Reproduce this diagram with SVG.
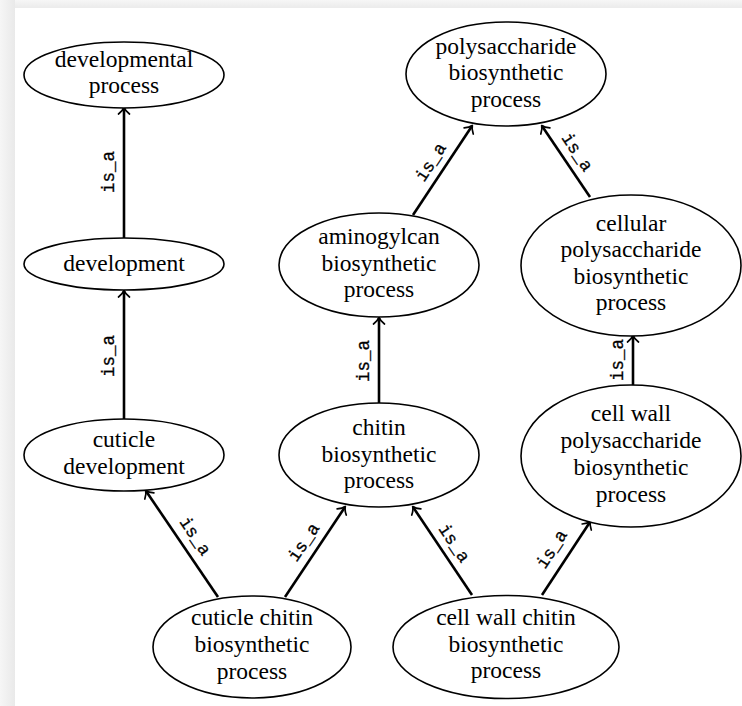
<svg xmlns="http://www.w3.org/2000/svg" width="742" height="706" viewBox="0 0 742 706">
  <defs>
    <linearGradient id="shadeLeft" x1="0" y1="0" x2="1" y2="0">
      <stop offset="0" stop-color="#f6f6f6"/>
      <stop offset="1" stop-color="#e9e9e9"/>
    </linearGradient>
    <linearGradient id="shadeTop" x1="0" y1="0" x2="0" y2="1">
      <stop offset="0" stop-color="#f6f6f6"/>
      <stop offset="1" stop-color="#ebebeb"/>
    </linearGradient>
    <marker id="arrow" markerUnits="userSpaceOnUse" markerWidth="16" markerHeight="16" viewBox="-8 -8 16 16" refX="0" refY="0" orient="auto" overflow="visible">
      <path d="M-6,-5.5 C-4,-2.8 -1.8,-0.9 0.6,0 C-1.8,0.9 -4,2.8 -6,5.5" fill="none" stroke="#000" stroke-width="1.7" stroke-linecap="round" stroke-linejoin="round"/>
    </marker>
    <style>
      .node ellipse { fill: #fff; stroke: #000; stroke-width: 1.6; }
      .node text { font-family: "Liberation Serif", "Times New Roman", serif; font-size: 23.5px; fill: #000; text-anchor: middle; }
      .edge line { stroke: #000; stroke-width: 2.6; marker-end: url(#arrow); }
      .edge text { font-family: "Liberation Mono", "Courier New", monospace; font-size: 17.5px; fill: #000; stroke: #000; stroke-width: 0.3; text-anchor: middle; }
    </style>
  </defs>

  <!-- page background -->
  <rect x="0" y="0" width="742" height="706" fill="#f2f2f2"/>
  <rect x="0" y="0" width="742" height="8" fill="url(#shadeTop)"/>
  <rect x="0" y="0" width="15" height="706" fill="url(#shadeLeft)"/>
  <rect x="15" y="8" width="727" height="698" fill="#fff"/>

  <!-- connectors -->
  <g id="edges">
    <g class="edge" id="e-development-developmental">
      <line x1="124" y1="238" x2="124" y2="108"/>
      <text transform="translate(110,172) rotate(-90)" y="4">is_a</text>
    </g>
    <g class="edge" id="e-cuticledev-development">
      <line x1="124" y1="419" x2="124" y2="291"/>
      <text transform="translate(110,356) rotate(-90)" y="4">is_a</text>
    </g>
    <g class="edge" id="e-cuticlechitin-cuticledev">
      <line x1="218" y1="597" x2="146" y2="491"/>
      <text transform="translate(194,537) rotate(56)" y="4">is_a</text>
    </g>
    <g class="edge" id="e-cuticlechitin-chitin">
      <line x1="285" y1="597" x2="345" y2="507"/>
      <text transform="translate(305,543) rotate(-56)" y="4">is_a</text>
    </g>
    <g class="edge" id="e-chitin-aminoglycan">
      <line x1="379" y1="403" x2="379" y2="318"/>
      <text transform="translate(365,361) rotate(-90)" y="4">is_a</text>
    </g>
    <g class="edge" id="e-cellwallchitin-chitin">
      <line x1="472" y1="595" x2="413" y2="507"/>
      <text transform="translate(453,544) rotate(56)" y="4">is_a</text>
    </g>
    <g class="edge" id="e-cellwallchitin-cellwallpoly">
      <line x1="542" y1="595" x2="590" y2="522"/>
      <text transform="translate(553,550) rotate(-57)" y="4">is_a</text>
    </g>
    <g class="edge" id="e-cellwallpoly-cellularpoly">
      <line x1="633" y1="385" x2="633" y2="336"/>
      <text transform="translate(619,360) rotate(-90)" y="4">is_a</text>
    </g>
    <g class="edge" id="e-aminoglycan-poly">
      <line x1="413" y1="215" x2="472" y2="126"/>
      <text transform="translate(432,163) rotate(-57)" y="4">is_a</text>
    </g>
    <g class="edge" id="e-cellularpoly-poly">
      <line x1="590" y1="197" x2="542" y2="126"/>
      <text transform="translate(576,153) rotate(56)" y="4">is_a</text>
    </g>
  </g>

  <!-- nodes -->
  <g class="node" id="developmental-process">
    <ellipse cx="124" cy="75" rx="100" ry="33"/>
    <text x="124" y="67">developmental</text>
    <text x="124" y="93">process</text>
  </g>
  <g class="node" id="development">
    <ellipse cx="124" cy="264" rx="100" ry="26"/>
    <text x="124" y="271">development</text>
  </g>
  <g class="node" id="cuticle-development">
    <ellipse cx="124" cy="455" rx="100" ry="36"/>
    <text x="124" y="447">cuticle</text>
    <text x="124" y="474">development</text>
  </g>
  <g class="node" id="polysaccharide-biosynthetic-process">
    <ellipse cx="506" cy="74" rx="100" ry="52"/>
    <text x="506" y="54">polysaccharide</text>
    <text x="506" y="80">biosynthetic</text>
    <text x="506" y="107">process</text>
  </g>
  <g class="node" id="aminoglycan-biosynthetic-process">
    <ellipse cx="379" cy="265" rx="100" ry="52"/>
    <text x="379" y="244">aminogylcan</text>
    <text x="379" y="271">biosynthetic</text>
    <text x="379" y="297">process</text>
  </g>
  <g class="node" id="cellular-polysaccharide-biosynthetic-process">
    <ellipse cx="631" cy="265.5" rx="110" ry="70.5"/>
    <text x="631" y="231">cellular</text>
    <text x="631" y="257">polysaccharide</text>
    <text x="631" y="284">biosynthetic</text>
    <text x="631" y="310">process</text>
  </g>
  <g class="node" id="chitin-biosynthetic-process">
    <ellipse cx="379" cy="455" rx="100" ry="52"/>
    <text x="379" y="435">chitin</text>
    <text x="379" y="462">biosynthetic</text>
    <text x="379" y="488">process</text>
  </g>
  <g class="node" id="cell-wall-polysaccharide-biosynthetic-process">
    <ellipse cx="631" cy="456" rx="110" ry="71"/>
    <text x="631" y="421">cell wall</text>
    <text x="631" y="448">polysaccharide</text>
    <text x="631" y="475">biosynthetic</text>
    <text x="631" y="502">process</text>
  </g>
  <g class="node" id="cuticle-chitin-biosynthetic-process">
    <ellipse cx="252" cy="647" rx="99" ry="51"/>
    <text x="252" y="625">cuticle chitin</text>
    <text x="252" y="652">biosynthetic</text>
    <text x="252" y="679">process</text>
  </g>
  <g class="node" id="cell-wall-chitin-biosynthetic-process">
    <ellipse cx="506" cy="647" rx="113" ry="51.5"/>
    <text x="506" y="625">cell wall chitin</text>
    <text x="506" y="652">biosynthetic</text>
    <text x="506" y="678">process</text>
  </g>
</svg>
